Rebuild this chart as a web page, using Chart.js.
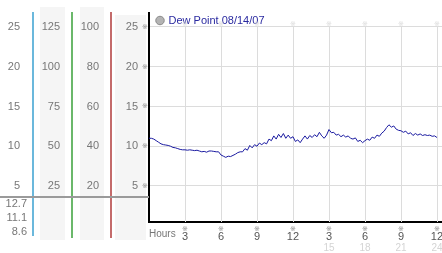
<!DOCTYPE html>
<html><head><meta charset="utf-8">
<script src="https://cdn.jsdelivr.net/npm/chart.js@4.4.1/dist/chart.umd.min.js"></script>
<style>html,body{margin:0;padding:0;background:#fff;overflow:hidden}#wrap{width:442px;height:253px;position:relative}</style>
</head><body><div id="wrap"><canvas id="c" width="442" height="253"></canvas></div>
<script>
// ---- data ----
const seriesName = 'Dew Point 08/14/07';
const stepHours = 0.2; // sampling interval of the readings below, starting at hour 0
const dewPoint = [
  11.0, 11.0, 10.9, 10.7, 10.5,
  10.3, 10.2, 10.15, 10.1, 10.0,
  9.85, 9.8, 9.7, 9.6, 9.55,
  9.55, 9.5, 9.55, 9.5, 9.45,
  9.5, 9.4, 9.3, 9.35, 9.25,
  9.4, 9.4, 9.35, 9.3, 9.3,
  8.9, 8.75, 8.6, 8.75, 8.7,
  8.85, 9.0, 9.2, 9.3, 9.3,
  9.7, 9.5, 10.1, 9.8, 10.2,
  10.0, 10.4, 10.2, 10.45, 10.3,
  10.9, 10.7, 11.3, 10.9, 11.5,
  11.1, 11.6, 11.0, 11.4, 11.0,
  11.2, 10.6, 10.8, 10.45, 10.9,
  11.3, 10.9, 11.35, 11.1, 11.45,
  11.2, 11.75, 11.3, 11.0, 11.4,
  12.1, 11.7, 11.75, 11.4, 11.5,
  11.2, 11.4, 11.15, 11.3, 11.0,
  10.9, 11.05, 10.6, 10.75, 10.45,
  10.7, 10.9, 10.75, 11.15, 11.0,
  11.4, 11.25, 11.65, 11.9, 12.35,
  12.7, 12.4, 12.55, 12.15, 12.0,
  11.95, 11.75, 11.9, 11.55, 11.7,
  11.35, 11.6, 11.4, 11.55, 11.35,
  11.45, 11.35, 11.4, 11.25, 11.3,
  11.1
];
const hourTicks = [3, 6, 9, 12, 15, 18, 21, 24];
const hourLabels = ['3', '6', '9', '12', '3', '6', '9', '12'];
const hour24Labels = ['', '', '', '', '15', '18', '21', '24'];
const tempTicks = [5, 10, 15, 20, 25];
const scaleA_Ticks = [25, 50, 75, 100, 125];
const scaleB_Ticks = [20, 40, 60, 80, 100];
const summaryValues = ['12.7', '11.1', '8.6'];

// ---- styles / layout ----
const Y_MIN = 0.47, Y_MAX = 26.76, X_MAX = 24.42;
const FONT = 'Liberation Sans';
const MARK = '\u203B';

const points = dewPoint.map((v, i) => ({ x: i * stepHours, y: v }));

function fixedTicks(list) {
  return s => { s.ticks = list.map(v => ({ value: v })); };
}
function noPad(s) { s.paddingLeft = 0; s.paddingRight = 0; s.paddingTop = 0; s.paddingBottom = 0; }

const decor = {
  id: 'decor',
  beforeDraw(chart) {
    const ctx = chart.ctx, s = chart.scales;
    ctx.save();
    ctx.fillStyle = '#f5f5f5';
    ctx.fillRect(s.yA.left + 7, 7, s.yA.width - 14, 233);
    ctx.fillRect(s.yB.left + 8, 7, s.yB.width - 15, 233);
    ctx.fillRect(s.y.left + 4, 15, s.y.width - 7, 225);
    ctx.restore();
  },
  beforeDatasetsDraw(chart) {
    const ctx = chart.ctx, x = chart.scales.x, y = chart.scales.y;
    const top = y.getPixelForValue(tempTicks[tempTicks.length - 1]);
    ctx.save();
    ctx.strokeStyle = '#dcdcdc';
    ctx.lineWidth = 1;
    hourTicks.forEach(h => {
      const px = Math.round(x.getPixelForValue(h)) + 0.5;
      ctx.beginPath(); ctx.moveTo(px, top); ctx.lineTo(px, chart.chartArea.bottom); ctx.stroke();
    });
    ctx.restore();
  },
  afterDraw(chart) {
    const ctx = chart.ctx, s = chart.scales;
    ctx.save();
    const lines = [[s.y0.right, '#3aa0d0', 12, 236], [s.yA.right, '#3aa03a', 12, 238], [s.yB.right, '#b03a3a', 12, 238]];
    lines.forEach(([lx, col, t, b]) => {
      ctx.strokeStyle = col; ctx.lineWidth = 1.5;
      ctx.beginPath(); ctx.moveTo(lx, t); ctx.lineTo(lx, b); ctx.stroke();
    });
    ctx.strokeStyle = '#9a9a9a'; ctx.lineWidth = 2;
    ctx.beginPath(); ctx.moveTo(0, 197); ctx.lineTo(s.y.right, 197); ctx.stroke();
    ctx.fillStyle = '#777';
    ctx.font = '11px "' + FONT + '"';
    ctx.textAlign = 'right'; ctx.textBaseline = 'middle';
    summaryValues.forEach((t, i) => ctx.fillText(t, s.y0.right - 6, 204 + i * 14));
    ctx.font = '7px "DejaVu Sans"';
    ctx.textAlign = 'center';
    ctx.fillStyle = '#8a8a8a';
    tempTicks.forEach(v => ctx.fillText(MARK, s.y.right - 4, s.y.getPixelForValue(v)));
    hourTicks.forEach(h => ctx.fillText(MARK, s.x.getPixelForValue(h), 229));
    ctx.fillStyle = '#dadada';
    hourTicks.forEach(h => ctx.fillText(MARK, s.x.getPixelForValue(h), s.y.getPixelForValue(25) - 3));
    ctx.restore();
  }
};

const yCommon = (min, max, list, width, pad, weight) => ({
  type: 'linear', position: 'left', min, max, weight,
  afterBuildTicks: fixedTicks(list),
  afterFit: s => { s.width = width; noPad(s); },
  ticks: { color: '#777', font: { family: FONT, size: 11 }, padding: pad },
  grid: { display: false, drawTicks: false },
  border: { display: false }
});

new Chart(document.getElementById('c'), {
  type: 'line',
  data: {
    datasets: [{
      label: seriesName,
      data: points,
      xAxisID: 'x', yAxisID: 'y',
      borderColor: '#1a1aa0',
      borderWidth: 1,
      pointRadius: 0,
      tension: 0,
      fill: false
    }]
  },
  options: {
    responsive: false,
    devicePixelRatio: 1,
    animation: false,
    events: [],
    layout: { padding: { top: 13, left: 0, right: 0, bottom: 0 } },
    plugins: {
      tooltip: { enabled: false },
      legend: {
        position: 'chartArea',
        align: 'start',
        title: { display: true, text: ' ', font: { size: 5 }, padding: { top: 1, bottom: 0 } },
        labels: {
          usePointStyle: true,
          boxWidth: 6, boxHeight: 6,
          padding: 8,
          color: '#2a2aa0',
          font: { family: FONT, size: 11 },
          generateLabels: () => [{
            text: seriesName, fillStyle: '#b4b4b4', strokeStyle: '#8a8a8a', lineWidth: 1,
            pointStyle: 'circle', hidden: false, datasetIndex: 0, fontColor: '#2a2aa0'
          }]
        }
      }
    },
    scales: {
      x: {
        type: 'linear', position: 'bottom', min: 0, max: X_MAX, weight: 0,
        afterBuildTicks: fixedTicks(hourTicks),
        afterFit: s => { s.height = 20; noPad(s); },
        ticks: {
          color: '#555', font: { family: FONT, size: 11 }, padding: 8,
          maxRotation: 0, autoSkip: false,
          callback: (v, i) => hourLabels[i]
        },
        grid: { drawOnChartArea: false, drawTicks: false },
        border: { color: '#000', width: 2 },
        title: { display: true, text: 'Hours', align: 'start', color: '#777',
                 font: { family: FONT, size: 10 }, padding: { top: 0, bottom: 2 } }
      },
      x24: {
        type: 'linear', position: 'bottom', min: 0, max: X_MAX, weight: 1,
        afterBuildTicks: fixedTicks(hourTicks),
        afterFit: s => { s.height = 11; noPad(s); },
        ticks: {
          color: '#d4d4d4', font: { family: FONT, size: 10 }, padding: 0,
          maxRotation: 0, autoSkip: false,
          callback: (v, i) => hour24Labels[i]
        },
        grid: { display: false, drawTicks: false },
        border: { display: false }
      },
      y: {
        type: 'linear', position: 'left', min: Y_MIN, max: Y_MAX, weight: 0,
        afterBuildTicks: fixedTicks(tempTicks),
        afterFit: s => { s.width = 38; noPad(s); },
        ticks: { color: '#777', font: { family: FONT, size: 11 }, padding: 11 },
        grid: { color: '#dcdcdc', drawTicks: false },
        border: { color: '#000', width: 2 }
      },
      yB: yCommon(Y_MIN * 4, Y_MAX * 4, scaleB_Ticks, 39, 12, 1),
      yA: yCommon(Y_MIN * 5, Y_MAX * 5, scaleA_Ticks, 39, 12, 2),
      y0: yCommon(Y_MIN, Y_MAX, tempTicks, 33, 13, 3)
    }
  },
  plugins: [decor]
});
</script>
</body></html>
